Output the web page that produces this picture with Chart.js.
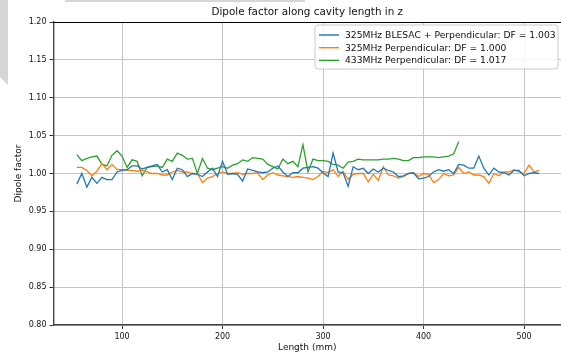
<!DOCTYPE html>
<html>
<head>
<meta charset="utf-8">
<script src="https://cdn.jsdelivr.net/npm/chart.js@4.4.1/dist/chart.umd.min.js"></script>
<style>
  html, body { margin: 0; padding: 0; background: #fff; }
  #wrap { width: 561px; height: 356px; position: relative; overflow: hidden; }
</style>
</head>
<body>
<div id="wrap"><canvas id="dfChart" width="561" height="356"></canvas></div>
<script>
// --- Data ---
const lengthMm = [55, 60, 65, 70, 75, 80, 85, 90, 95, 100, 105, 110, 115, 120, 125, 130, 135, 140, 145, 150,
  155, 160, 165, 170, 175, 180, 185, 190, 195, 200, 205, 210, 215, 220, 225, 230, 235, 240, 245, 250,
  255, 260, 265, 270, 275, 280, 285, 290, 295, 300, 305, 310, 315, 320, 325, 330, 335, 340, 345, 350,
  355, 360, 365, 370, 375, 380, 385, 390, 395, 400, 405, 410, 415, 420, 425, 430, 435, 440, 445, 450,
  455, 460, 465, 470, 475, 480, 485, 490, 495, 500, 505, 510, 515];

const blesac325 = [0.986, 1.000, 0.982, 0.995, 0.987, 0.995, 0.992, 0.992, 1.002, 1.004, 1.005, 1.010, 1.010, 1.006, 1.008, 1.010, 1.012, 1.002, 1.005, 0.992,
  1.007, 1.005, 0.996, 1.000, 0.999, 0.996, 1.002, 1.007, 0.996, 1.016, 0.999, 1.000, 0.999, 0.990, 1.006, 1.004, 1.002, 1.001, 1.002, 1.007,
  1.010, 1.002, 0.996, 1.001, 1.001, 1.007, 1.008, 1.009, 1.007, 1.001, 0.996, 1.027, 1.002, 1.001, 0.983, 1.009, 1.005, 1.007, 1.000, 1.006,
  1.002, 1.007, 1.004, 1.002, 0.996, 0.997, 1.000, 1.001, 0.993, 0.994, 0.996, 1.002, 1.005, 1.003, 1.005, 1.000, 1.012, 1.011, 1.007, 1.007,
  1.023, 1.007, 0.998, 1.007, 1.002, 1.001, 0.998, 1.004, 1.004, 0.997, 1.000, 1.001, 1.000];

const perp325 = [1.008, 1.008, 1.004, 0.997, 1.003, 1.013, 1.005, 1.012, 1.005, 1.005, 1.004, 1.004, 1.003, 1.004, 1.002, 1.000, 1.000, 0.998, 0.998, 1.002,
  1.004, 1.002, 1.002, 1.000, 1.000, 0.988, 0.994, 0.996, 1.000, 1.002, 1.000, 1.000, 1.001, 0.999, 1.000, 1.000, 1.001, 0.992, 0.998, 1.001,
  0.998, 0.997, 0.996, 0.995, 0.996, 0.995, 0.994, 0.992, 0.996, 1.003, 1.001, 1.005, 0.996, 1.003, 0.992, 0.999, 1.000, 1.000, 0.989, 0.999,
  0.991, 1.009, 0.998, 0.997, 0.994, 0.996, 1.000, 1.001, 0.996, 1.000, 0.999, 0.988, 0.992, 1.000, 0.997, 0.998, 1.008, 1.000, 1.002, 0.998,
  0.998, 0.996, 0.987, 1.000, 0.997, 1.002, 1.002, 1.005, 1.002, 1.000, 1.011, 1.002, 1.004];

// 433 MHz run stops at 435 mm
const perp433 = [1.025, 1.017, 1.020, 1.022, 1.023, 1.012, 1.010, 1.024, 1.030, 1.023, 1.008, 1.018, 1.016, 0.997, 1.008, 1.009, 1.010, 1.008, 1.019, 1.016,
  1.027, 1.024, 1.019, 1.020, 1.000, 1.020, 1.007, 1.005, 1.007, 1.009, 1.007, 1.011, 1.013, 1.018, 1.016, 1.021, 1.020, 1.019, 1.012, 1.009,
  1.006, 1.019, 1.013, 1.016, 1.009, 1.038, 1.002, 1.019, 1.017, 1.017, 1.016, 1.012, 1.011, 1.007, 1.015, 1.016, 1.019, 1.018, 1.018, 1.018,
  1.018, 1.019, 1.019, 1.020, 1.019, 1.017, 1.017, 1.021, 1.021, 1.022, 1.022, 1.022, 1.021, 1.022, 1.023, 1.026, 1.042];

const seriesLabels = [
  '325MHz BLESAC + Perpendicular: DF = 1.003',
  '325MHz Perpendicular: DF = 1.000',
  '433MHz Perpendicular: DF = 1.017'
];
const seriesColors = ['#1f77b4', '#ff7f0e', '#2ca02c'];

const xTicks = [100, 200, 300, 400, 500];
const yTicks = [0.80, 0.85, 0.90, 0.95, 1.00, 1.05, 1.10, 1.15, 1.20];

const FONT = "'DejaVu Sans', sans-serif";

function toPoints(values) {
  return values.map((v, i) => ({ x: lengthMm[i], y: v }));
}

/* ---------------------- Extras drawn on the canvas ---------------------- */
const decorPlugin = {
  id: 'decor',
  beforeDraw(chart) {
    const c = chart.ctx;
    c.save();
    // grey scan artefact in the top-left corner
    c.fillStyle = '#d6d6d6';
    c.beginPath();
    c.moveTo(0, 0); c.lineTo(8, 0); c.lineTo(8, 85); c.lineTo(0, 77);
    c.closePath(); c.fill();
    c.fillRect(65, 0, 240, 2);
    c.restore();
  },
  afterDraw(chart) {
    const c = chart.ctx;
    const a = chart.chartArea;
    c.save();

    // top spine
    c.strokeStyle = '#000';
    c.lineWidth = 1;
    c.beginPath();
    c.moveTo(a.left, a.top + 0.5);
    c.lineTo(a.right, a.top + 0.5);
    c.stroke();

    const midX = (a.left + a.right) / 2;
    c.fillStyle = '#111';
    c.textAlign = 'center';
    c.textBaseline = 'middle';

    c.font = '10.4px ' + FONT;
    c.fillText('Dipole factor along cavity length in z', midX, 12);

    c.font = '9px ' + FONT;
    c.fillText('Length (mm)', midX, 348);

    c.save();
    c.translate(19, (a.top + a.bottom) / 2);
    c.rotate(-Math.PI / 2);
    c.fillText('Dipole factor', 0, 0);
    c.restore();

    // legend box
    const bx = 315, by = 25, bw = 243, bh = 44, r = 3;
    c.fillStyle = 'rgba(255,255,255,0.85)';
    c.strokeStyle = '#cccccc';
    c.lineWidth = 1;
    c.beginPath();
    c.moveTo(bx + r, by);
    c.lineTo(bx + bw - r, by);
    c.quadraticCurveTo(bx + bw, by, bx + bw, by + r);
    c.lineTo(bx + bw, by + bh - r);
    c.quadraticCurveTo(bx + bw, by + bh, bx + bw - r, by + bh);
    c.lineTo(bx + r, by + bh);
    c.quadraticCurveTo(bx, by + bh, bx, by + bh - r);
    c.lineTo(bx, by + r);
    c.quadraticCurveTo(bx, by, bx + r, by);
    c.closePath();
    c.fill();
    c.stroke();

    c.textAlign = 'left';
    c.font = '9.2px ' + FONT;
    seriesLabels.forEach((label, i) => {
      const y = by + 10 + i * 12.7;
      c.strokeStyle = seriesColors[i];
      c.lineWidth = 1.4;
      c.beginPath();
      c.moveTo(bx + 4, y);
      c.lineTo(bx + 24, y);
      c.stroke();
      c.fillStyle = '#111';
      c.fillText(label, bx + 30, y + 0.5);
    });

    c.restore();
  }
};

/* ---------------------- Chart ---------------------- */
const ctx = document.getElementById('dfChart').getContext('2d');

const dfChart = new Chart(ctx, {
  type: 'line',
  data: {
    datasets: [
      { label: seriesLabels[0], data: toPoints(blesac325), borderColor: seriesColors[0] },
      { label: seriesLabels[1], data: toPoints(perp325), borderColor: seriesColors[1] },
      { label: seriesLabels[2], data: toPoints(perp433), borderColor: seriesColors[2] }
    ]
  },
  options: {
    responsive: false,
    animation: false,
    layout: { padding: { top: 22, right: 0, left: 0, bottom: 0 } },
    elements: {
      line: { borderWidth: 1.3, tension: 0, fill: false },
      point: { radius: 0, hoverRadius: 0 }
    },
    plugins: {
      legend: { display: false },
      title: { display: false },
      tooltip: { enabled: false }
    },
    scales: {
      x: {
        type: 'linear',
        min: 31.8,
        max: 536.8,
        afterBuildTicks: s => { s.ticks = xTicks.map(v => ({ value: v })); },
        afterFit: s => { s.height = 31; },
        ticks: { color: '#111', font: { family: FONT, size: 8 }, padding: 3, maxRotation: 0 },
        grid: { color: '#c4c4c4', lineWidth: 1, tickLength: 4, tickColor: '#333' },
        border: { color: '#444', width: 1.4 }
      },
      y: {
        type: 'linear',
        min: 0.8,
        max: 1.2,
        afterBuildTicks: s => { s.ticks = yTicks.map(v => ({ value: v })); },
        afterFit: s => { s.width = 53.5; },
        ticks: {
          color: '#111', font: { family: FONT, size: 8 }, padding: 3,
          callback: v => v.toFixed(2)
        },
        grid: { color: '#c4c4c4', lineWidth: 1, tickLength: 4, tickColor: '#333' },
        border: { color: '#444', width: 1.4 }
      }
    }
  },
  plugins: [decorPlugin]
});
</script>
</body>
</html>
